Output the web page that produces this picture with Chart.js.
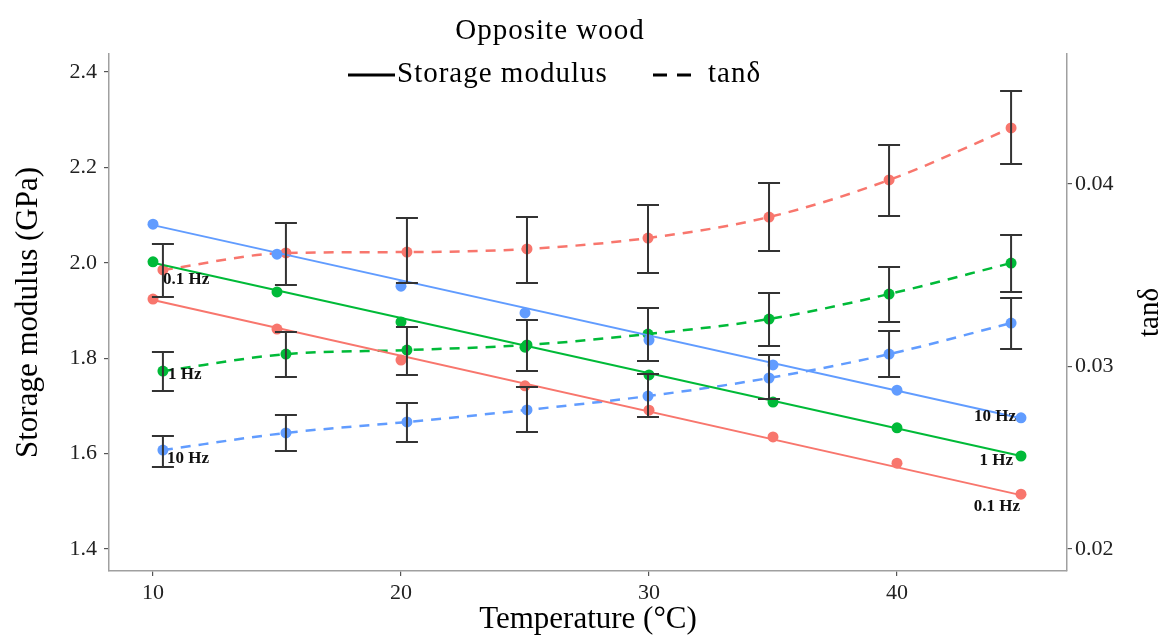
<!DOCTYPE html>
<html>
<head>
<meta charset="utf-8">
<script src="https://cdn.jsdelivr.net/npm/chart.js@4.4.1/dist/chart.umd.min.js"></script>
<style>
  body { margin: 0; background: #fff; }
  #wrap { width: 1172px; height: 638px; position: relative; }
</style>
</head>
<body>
<div id="wrap"><canvas id="dma-graph"></canvas></div>
<script>
// Temperatures (°C)
const temps = [10, 15, 20, 25, 30, 35, 40, 45];
// tanδ points are drawn slightly shifted along the temperature axis
const tanTemps = [10.4, 15.36, 20.24, 25.08, 29.96, 34.84, 39.68, 44.6];

const freqLabels = ["0.1 Hz", "1 Hz", "10 Hz"];

// Storage modulus (GPa), measured points
const storage01 = [1.924, 1.861, 1.796, 1.742, 1.691, 1.635, 1.580, 1.515];
const storage1 = [2.002, 1.939, 1.876, 1.823, 1.765, 1.708, 1.654, 1.595];
const storage10 = [2.081, 2.018, 1.951, 1.895, 1.838, 1.786, 1.733, 1.675];

// Storage modulus linear fits (value at 10 °C and 45 °C)
const fitTemps = [10, 45];
const fit01 = [1.922, 1.513];
const fit1 = [2.000, 1.595];
const fit10 = [2.079, 1.674];

// tanδ means and error bar limits
const tan01 = [0.03529, 0.03622, 0.03627, 0.03644, 0.03704, 0.03819, 0.04022, 0.04307];
const tan01Hi = [0.03671, 0.03786, 0.03814, 0.03819, 0.03885, 0.04005, 0.04214, 0.04510];
const tan01Lo = [0.03381, 0.03447, 0.03458, 0.03458, 0.03512, 0.03633, 0.03825, 0.04110];

const tan1 = [0.02975, 0.03068, 0.03090, 0.03118, 0.03178, 0.03260, 0.03397, 0.03567];
const tan1Hi = [0.03080, 0.03189, 0.03216, 0.03255, 0.03321, 0.03403, 0.03545, 0.03721];
const tan1Lo = [0.02866, 0.02942, 0.02953, 0.02975, 0.03030, 0.03112, 0.03244, 0.03408];

const tan10 = [0.02542, 0.02636, 0.02696, 0.02762, 0.02838, 0.02937, 0.03068, 0.03238];
const tan10Hi = [0.02619, 0.02734, 0.02800, 0.02888, 0.02959, 0.03063, 0.03195, 0.03375];
const tan10Lo = [0.02449, 0.02537, 0.02586, 0.02641, 0.02723, 0.02822, 0.02942, 0.03096];

// Axis ticks
const xTicks = [10, 20, 30, 40];
const yTicks = [1.4, 1.6, 1.8, 2.0, 2.2, 2.4];
const y2Ticks = [0.02, 0.03, 0.04];

const colors = ["#F8766D", "#00BA38", "#619CFF"];
const serif = "'Liberation Serif', 'Times New Roman', serif";

function pts(xs, ys) {
  return xs.map((x, i) => ({ x: x, y: ys[i] }));
}

const storageSets = [storage01, storage1, storage10];
const fitSets = [fit01, fit1, fit10];
const tanSets = [tan01, tan1, tan10];
const tanHiSets = [tan01Hi, tan1Hi, tan10Hi];
const tanLoSets = [tan01Lo, tan1Lo, tan10Lo];

const datasets = [];
// tanδ dashed smooth curves
tanSets.forEach((vals, i) => {
  datasets.push({
    data: pts(tanTemps, vals),
    yAxisID: "y2",
    borderColor: colors[i],
    backgroundColor: colors[i],
    borderWidth: 2.5,
    borderDash: [10, 8],
    cubicInterpolationMode: "monotone",
    pointRadius: 5.5,
    pointBorderWidth: 0,
    order: 3,
  });
});
// storage modulus fit lines
fitSets.forEach((vals, i) => {
  datasets.push({
    data: pts(fitTemps, vals),
    yAxisID: "y",
    borderColor: colors[i],
    borderWidth: 2,
    pointRadius: 0,
    order: 2,
  });
});
// storage modulus points
storageSets.forEach((vals, i) => {
  datasets.push({
    data: pts(temps, vals),
    yAxisID: "y",
    showLine: false,
    backgroundColor: colors[i],
    borderColor: colors[i],
    pointRadius: 5.5,
    pointBorderWidth: 0,
    order: 1,
  });
});

// Error bars for tanδ
const errorBars = {
  id: "errorBars",
  afterDatasetsDraw(chart) {
    const ctx = chart.ctx;
    const xs = chart.scales.x;
    const ys = chart.scales.y2;
    ctx.save();
    ctx.strokeStyle = "#333";
    ctx.lineWidth = 2;
    tanHiSets.forEach((hi, s) => {
      const lo = tanLoSets[s];
      tanTemps.forEach((t, i) => {
        const px = xs.getPixelForValue(t);
        const top = ys.getPixelForValue(hi[i]);
        const bot = ys.getPixelForValue(lo[i]);
        ctx.beginPath();
        ctx.moveTo(px, top);
        ctx.lineTo(px, bot);
        ctx.moveTo(px - 11, top);
        ctx.lineTo(px + 11, top);
        ctx.moveTo(px - 11, bot);
        ctx.lineTo(px + 11, bot);
        ctx.stroke();
      });
    });
    ctx.restore();
  },
};

// Frequency labels next to the series
const freqText = {
  id: "freqText",
  afterDatasetsDraw(chart) {
    const ctx = chart.ctx;
    const xs = chart.scales.x;
    const y = chart.scales.y;
    const y2 = chart.scales.y2;
    ctx.save();
    ctx.font = "bold 17px " + serif;
    ctx.fillStyle = "#111";
    ctx.textBaseline = "middle";
    // left side, beside first tanδ point
    const leftOff = [10, 4, 9];
    const leftDx = [0, 5, 4];
    ctx.textAlign = "left";
    tanSets.forEach((vals, i) => {
      const px = xs.getPixelForValue(tanTemps[0]) + leftDx[i];
      const py = y2.getPixelForValue(vals[0]) + leftOff[i];
      ctx.fillText(freqLabels[i], px, py);
    });
    // right side, beside last storage point
    const rightOff = [12, 5, -1];
    const rightDx = [-1, -8, -5];
    ctx.textAlign = "right";
    storageSets.forEach((vals, i) => {
      const last = vals.length - 1;
      const px = xs.getPixelForValue(temps[last]) + rightDx[i];
      const py = y.getPixelForValue(vals[last]) + rightOff[i];
      ctx.fillText(freqLabels[i], px, py);
    });
    ctx.restore();
  },
};

// Title, legend and right axis title
const header = {
  id: "header",
  afterDraw(chart) {
    const ctx = chart.ctx;
    const area = chart.chartArea;
    ctx.save();
    ctx.fillStyle = "#000";
    ctx.textBaseline = "alphabetic";
    ctx.font = "29px " + serif;
    ctx.letterSpacing = "1px";
    ctx.textAlign = "center";
    ctx.fillText("Opposite wood", 550, 39);

    ctx.textAlign = "left";
    ctx.fillText("Storage modulus", 397, 82);
    ctx.fillText("tan\u03b4", 708, 82);

    ctx.strokeStyle = "#000";
    ctx.lineWidth = 3;
    ctx.beginPath();
    ctx.moveTo(348, 75);
    ctx.lineTo(395, 75);
    ctx.stroke();
    ctx.setLineDash([14, 10]);
    ctx.beginPath();
    ctx.moveTo(653, 75);
    ctx.lineTo(699, 75);
    ctx.stroke();
    ctx.setLineDash([]);

    ctx.letterSpacing = "0px";
    ctx.font = "29px " + serif;
    ctx.textAlign = "center";
    ctx.textBaseline = "middle";
    ctx.translate(1150, (area.top + area.bottom) / 2);
    ctx.rotate(-Math.PI / 2);
    ctx.fillText("tan\u03b4", 0, 0);
    ctx.restore();
  },
};

const tickFont = { family: serif, size: 22 };

new Chart(document.getElementById("dma-graph"), {
  type: "line",
  data: { datasets: datasets },
  plugins: [errorBars, freqText, header],
  options: {
    responsive: true,
    maintainAspectRatio: false,
    animation: false,
    layout: { autoPadding: false, padding: { top: 54, left: 0, right: 0, bottom: 0 } },
    plugins: {
      legend: { display: false },
      tooltip: { enabled: false },
    },
    scales: {
      x: {
        type: "linear",
        min: 8.226,
        max: 46.855,
        afterBuildTicks: (s) => { s.ticks = xTicks.map((v) => ({ value: v })); },
        afterFit: (s) => { s.height = 67; },
        ticks: { font: tickFont, color: "#222", padding: 4 },
        grid: { drawOnChartArea: false, tickLength: 5, color: "#555", lineWidth: 1.2 },
        border: { color: "#a0a0a0", width: 1.5 },
        title: {
          display: true,
          text: "Temperature (\u00b0C)",
          font: { family: serif, size: 31 },
          color: "#000",
          padding: { top: 0, bottom: 0 },
        },
      },
      y: {
        position: "left",
        min: 1.3539,
        max: 2.4377,
        afterBuildTicks: (s) => { s.ticks = yTicks.map((v) => ({ value: v })); },
        afterFit: (s) => { s.width = 109; },
        ticks: { font: tickFont, color: "#222", padding: 7, callback: (v) => v.toFixed(1) },
        grid: { drawOnChartArea: false, tickLength: 5, color: "#555", lineWidth: 1.2 },
        border: { color: "#a0a0a0", width: 1.5 },
        title: {
          display: true,
          text: "Storage modulus (GPa)",
          font: { family: serif, size: 31 },
          color: "#000",
          padding: { top: 10, bottom: 0 },
        },
      },
      y2: {
        position: "right",
        min: 0.018795,
        max: 0.047123,
        afterBuildTicks: (s) => { s.ticks = y2Ticks.map((v) => ({ value: v })); },
        afterFit: (s) => { s.width = 105; },
        ticks: { font: tickFont, color: "#222", padding: 3, callback: (v) => v.toFixed(2) },
        grid: { drawOnChartArea: false, tickLength: 5, color: "#555", lineWidth: 1.2 },
        border: { color: "#a0a0a0", width: 1.5 },
      },
    },
  },
});
</script>
</body>
</html>
